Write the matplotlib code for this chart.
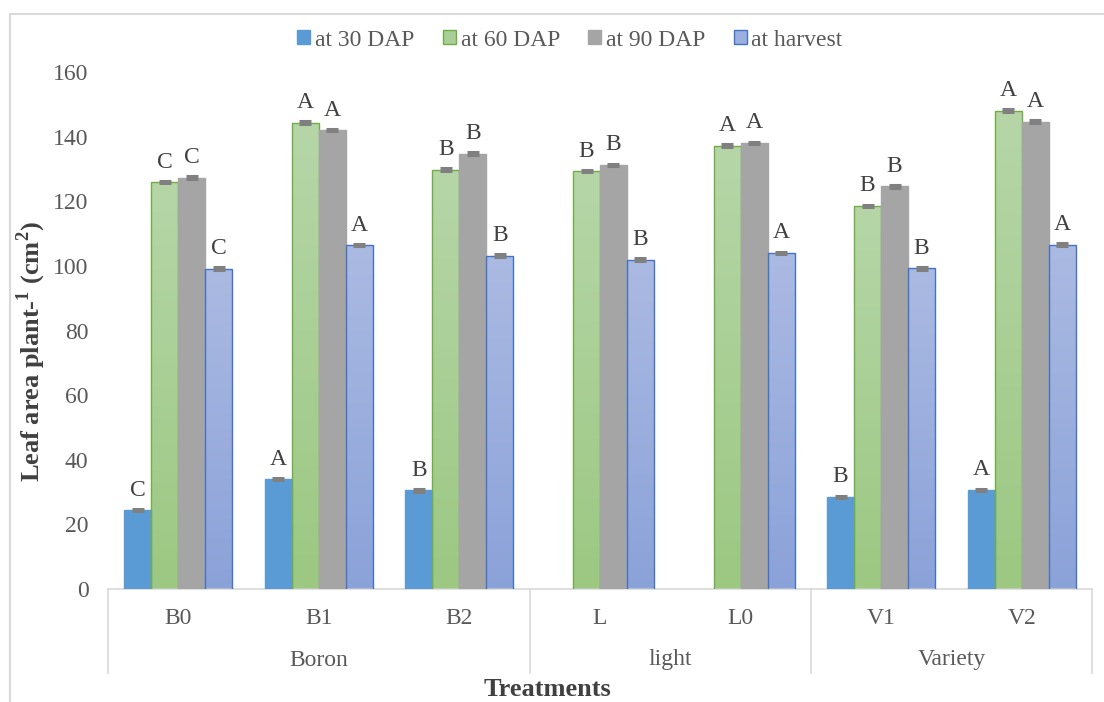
import numpy as np
import matplotlib
matplotlib.use("Agg")
import matplotlib.pyplot as plt
from matplotlib.patches import Rectangle
from matplotlib.colors import LinearSegmentedColormap
from matplotlib.lines import Line2D

plt.rcParams['font.family'] = ['Liberation Serif', 'DejaVu Serif']
plt.rcParams['mathtext.fontset'] = 'custom'
plt.rcParams['mathtext.rm'] = 'Liberation Serif'
plt.rcParams['mathtext.bf'] = 'Liberation Serif:bold'

# ---- data ----
treatments = ["B0", "B1", "B2", "L", "L0", "V1", "V2"]
factor_groups = ["Boron", "light", "Variety"]
group_sizes = [3, 2, 2]
series_names = ["at 30 DAP", "at 60 DAP", "at 90 DAP", "at harvest"]

dap30 = [24.4, 34.0, 30.5, np.nan, np.nan, 28.5, 30.6]
dap60 = [125.9, 144.3, 129.8, 129.3, 137.2, 118.5, 148.0]
dap90 = [127.3, 142.0, 134.7, 131.2, 138.0, 124.6, 144.6]
harvest = [99.1, 106.4, 103.2, 101.9, 104.0, 99.2, 106.6]

err30 = [0.4, 0.4, 0.4, np.nan, np.nan, 0.4, 0.4]
err60 = [0.4] * 7
err90 = [0.4] * 7
errh = [0.4] * 7

let30 = ["C", "A", "B", "", "", "B", "A"]
let60 = ["C", "A", "B", "B", "A", "B", "A"]
let90 = ["C", "A", "B", "B", "A", "B", "A"]
leth = ["C", "A", "B", "B", "A", "B", "A"]

values = [dap30, dap60, dap90, harvest]
errors = [err30, err60, err90, errh]
letters = [let30, let60, let90, leth]

# ---- styles: (top colour, bottom colour, edge colour) ----
styles = [
    ("#5b9bd5", "#5b9bd5", "#5b9bd5"),
    ("#b6d6a8", "#9cc882", "#70ad47"),
    ("#a5a5a5", "#a5a5a5", "#a5a5a5"),
    ("#abbae2", "#8ba2d9", "#4472c4"),
]

fig = plt.figure(figsize=(11.04, 7.02), dpi=100)
W, H = 1104, 702
ax_left, ax_right, ax_bottom, ax_top = 108, 1092, 589, 72
ax = fig.add_axes([ax_left / W, 1 - ax_bottom / H,
                   (ax_right - ax_left) / W, (ax_bottom - ax_top) / H])

n = len(treatments)
x = np.arange(n)
bw = 0.192
offsets = (np.arange(4) - 1.5) * bw

for si, (vals, errs, labs) in enumerate(zip(values, errors, letters)):
    top_c, bot_c, edge_c = styles[si]
    cmap = LinearSegmentedColormap.from_list(f"g{si}", [bot_c, top_c])
    xs = x + offsets[si]
    bars = ax.bar(xs, vals, width=bw, color=top_c if top_c == bot_c else "none",
                  edgecolor=edge_c, linewidth=1.0, zorder=3)
    if top_c != bot_c:
        for b, v in zip(bars, vals):
            if np.isnan(v):
                continue
            grad = np.linspace(0, 1, 256).reshape(-1, 1)
            im = ax.imshow(grad, cmap=cmap, origin="lower", aspect="auto",
                           extent=[b.get_x(), b.get_x() + b.get_width(), 0, v],
                           zorder=2)
            im.set_clip_path(b)
    ax.errorbar(xs, vals, yerr=errs, fmt="none", ecolor="#808080",
                elinewidth=1.2, capsize=4.5, capthick=2.2, zorder=4)
    for xi, v, e, lab in zip(xs, vals, errs, labs):
        if lab and not np.isnan(v):
            ax.annotate(lab, (xi, v + e), xytext=(0, 6), textcoords="offset points",
                        ha="center", va="bottom", fontsize=17, color="#404040")

ax.set_xlim(-0.5, n - 0.5)
ax.set_ylim(0, 160)
ax.set_yticks(np.arange(0, 161, 20))
ax.tick_params(axis="y", length=0, labelsize=17, labelcolor="#595959", pad=14)
ax.set_xticks([])
for s in ["top", "right", "left"]:
    ax.spines[s].set_visible(False)
ax.spines["bottom"].set_color("#d9d9d9")
ax.spines["bottom"].set_linewidth(1.2)

# ---- two-level category axis ----
trans = ax.get_xaxis_transform()
for xi, t in zip(x, treatments):
    ax.text(xi, -(618 - ax_bottom) / (ax_bottom - ax_top), t, transform=trans,
            ha="center", va="center", fontsize=17, color="#595959")
bounds = np.concatenate([[0], np.cumsum(group_sizes)]) - 0.5
for g, name in enumerate(factor_groups):
    mid = (bounds[g] + bounds[g + 1]) / 2
    ax.text(mid, -(660 - ax_bottom) / (ax_bottom - ax_top), name, transform=trans,
            ha="center", va="center", fontsize=17, color="#595959")
y_sep_bottom = -(673 - ax_bottom) / (ax_bottom - ax_top)
for bx in bounds:
    ax.add_line(Line2D([bx, bx], [0, y_sep_bottom], transform=trans,
                       color="#d9d9d9", linewidth=1.2, clip_on=False))

fig.text(547 / W, 1 - 689 / H, "Treatments",
         ha="center", va="center", fontsize=19, fontweight="bold", color="#404040")
fig.text(31 / W, 1 - 352 / H, r"Leaf area plant-$^{\mathbf{1}}$ (cm$^{\mathbf{2}}$)",
         rotation=90, ha="center", va="center", fontsize=19, fontweight="bold",
         color="#404040")

# ---- legend ----
handles = []
for si in range(4):
    top_c, bot_c, edge_c = styles[si]
    face = top_c if top_c == bot_c else "#a9cf97" if si == 1 else "#9bb0df"
    handles.append(Rectangle((0, 0), 1, 1, facecolor=face, edgecolor=edge_c, linewidth=1))
leg = fig.legend(handles, series_names, loc="center", bbox_to_anchor=(570 / W, 1 - 40 / H),
                 ncol=4, frameon=False, fontsize=17, handlelength=0.55, handleheight=0.55,
                 handletextpad=0.2, columnspacing=1.2)
for t in leg.get_texts():
    t.set_color("#595959")

# chart border
fig.patches.append(Rectangle((10 / W, -0.1), 1.2, 1 - 14 / H + 0.1, transform=fig.transFigure,
                             fill=False, edgecolor="#d9d9d9", linewidth=1.5))

fig.savefig("out.png", dpi=100)
